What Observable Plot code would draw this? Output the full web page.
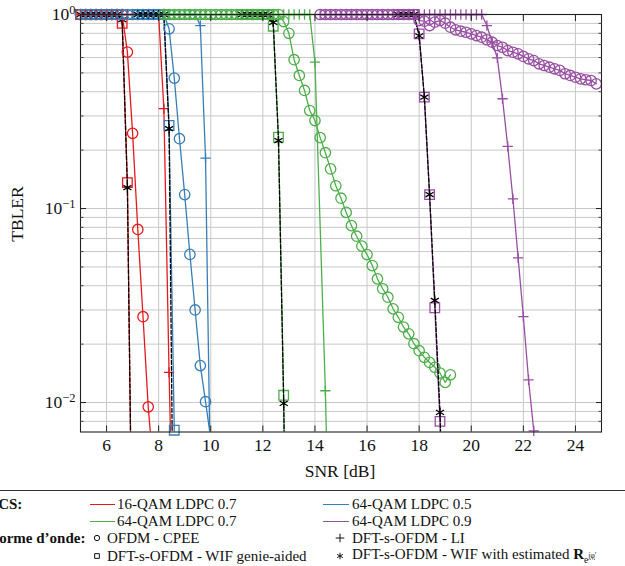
<!DOCTYPE html>
<html><head><meta charset="utf-8">
<script src="https://cdn.jsdelivr.net/npm/d3@7"></script>
<script src="https://cdn.jsdelivr.net/npm/@observablehq/plot@0.6"></script>
<style>
html,body{margin:0;padding:0;background:#fff;}
body{width:625px;height:566px;overflow:hidden;position:relative;font-family:"Liberation Serif","Times New Roman",Times,"DejaVu Serif",serif;color:#111;}
#chart{position:absolute;left:0;top:0;}
.lbl{position:absolute;font-size:17.5px;white-space:nowrap;}
#legend{position:absolute;left:0;top:0;width:625px;height:566px;pointer-events:none;}
.rule{position:absolute;left:0;top:490px;width:625px;height:0;border-top:1px solid #333;}
.lt{position:absolute;font-size:15px;white-space:nowrap;transform:translateY(-50%);line-height:1;}
.lb{font-weight:bold;}
.ll{position:absolute;height:0;border-top:1.3px solid;}
</style></head><body>
<div id="chart"></div>
<div id="legend"></div>
<script>
// ---- axis / tick values ----
const xTicks = [6, 8, 10, 12, 14, 16, 18, 20, 22, 24];
const yTicks = [0.01, 0.1, 1];
const yGrid = [0.008, 0.009, 0.01, 0.02, 0.03, 0.04, 0.05, 0.06, 0.07, 0.08, 0.09, 0.1, 0.2, 0.3, 0.4, 0.5, 0.6, 0.7, 0.8, 0.9];
const xDomain = [5, 25];
const yDomain = [0.00705, 1];

// ---- 16-QAM LDPC 0.7 (red) ----
const snrRedCpee = [5, 5.2, 5.4, 5.6, 5.8, 6, 6.2, 6.4, 6.6, 6.8, 7, 7.2, 7.4, 7.6, 7.8];
const blerRedCpee = [1, 1, 1, 1, 1, 1, 1, 1, 1, 0.64, 0.244, 0.078, 0.0277, 0.0095, 0.0045];
const snrRedLi = [5, 5.2, 5.4, 5.6, 5.8, 6, 6.2, 6.4, 6.6, 6.8, 7, 7.2, 7.4, 7.6, 7.8, 8, 8.2, 8.4, 8.6];
const blerRedLi = [1, 1, 1, 1, 1, 1, 1, 1, 1, 1, 1, 1, 1, 1, 1, 1, 0.327, 0.0143, 0.001];
const snrRedGenie = [5, 5.2, 5.4, 5.6, 5.8, 6, 6.2, 6.4, 6.6, 6.8, 7];
const blerRedGenie = [1, 1, 1, 1, 1, 1, 1, 1, 0.90, 0.136, 0.001];
const snrRedEst = [5, 5.2, 5.4, 5.6, 5.8, 6, 6.2, 6.4, 6.6, 6.8, 7];
const blerRedEst = [1, 1, 1, 1, 1, 1, 1, 1, 0.94, 0.128, 0.001];

// ---- 64-QAM LDPC 0.5 (blue) ----
const snrBlueCpee = [5, 5.2, 5.4, 5.6, 5.8, 6, 6.2, 6.4, 6.6, 6.8, 7, 7.2, 7.4, 7.6, 7.8, 8, 8.2, 8.4, 8.6, 8.8, 9, 9.2, 9.4, 9.6, 9.8, 10];
const blerBlueCpee = [1, 1, 1, 1, 1, 1, 1, 1, 1, 1, 1, 1, 1, 1, 1, 1, 1, 0.844, 0.47, 0.229, 0.118, 0.058, 0.030, 0.0155, 0.0101, 0.0065];
const snrBlueLi = [8.2, 8.4, 8.6, 8.8, 9, 9.2, 9.4, 9.6, 9.8, 10];
const blerBlueLi = [1, 1, 1, 1, 1, 1, 1, 0.877, 0.182, 0.003];
const snrBlueGenie = [7.2, 7.4, 7.6, 7.8, 8, 8.2, 8.4, 8.6, 8.8];
const blerBlueGenie = [1, 1, 1, 1, 1, 1, 0.268, 0.0072, 0.0003];
const snrBlueEst = [7.2, 7.4, 7.6, 7.8, 8, 8.2, 8.4, 8.6];
const blerBlueEst = [1, 1, 1, 1, 1, 1, 0.258, 0.0006];

// ---- 64-QAM LDPC 0.7 (green) ----
const snrGreenCpee = [8.2, 8.4, 8.6, 8.8, 9, 9.2, 9.4, 9.6, 9.8, 10, 10.2, 10.4, 10.6, 10.8, 11, 11.2, 11.4, 11.6, 11.8, 12, 12.2, 12.4, 12.6,
  12.8, 13, 13.2, 13.4, 13.6, 13.8, 14, 14.2, 14.4, 14.6, 14.8, 15, 15.2, 15.4, 15.6, 15.8, 16, 16.2, 16.4, 16.6, 16.8, 17, 17.2, 17.4, 17.6, 17.8, 18, 18.2, 18.4, 18.6, 18.8, 19, 19.2];
const blerGreenCpee = [1, 1, 1, 1, 1, 1, 1, 1, 1, 1, 1, 1, 1, 1, 1, 1, 1, 1, 1, 1, 1, 1, 1,
  0.92, 0.80, 0.585, 0.485, 0.406, 0.32, 0.284, 0.232, 0.194, 0.16, 0.131, 0.113, 0.0955, 0.0816, 0.072, 0.064, 0.0579, 0.0508, 0.0434, 0.0386, 0.0349, 0.0304, 0.0275, 0.0245, 0.0226, 0.0201, 0.0185, 0.0171, 0.0161, 0.0152, 0.0142, 0.0127, 0.0139];
const snrGreenLi = [8.2, 8.4, 8.6, 8.8, 9, 9.2, 9.4, 9.6, 9.8, 10, 10.2, 10.4, 10.6, 10.8, 11, 11.2, 11.4, 11.6, 11.8, 12, 12.2, 12.4, 12.6, 12.8, 13, 13.2, 13.4, 13.6, 13.8, 14, 14.4, 14.6];
const blerGreenLi = [1, 1, 1, 1, 1, 1, 1, 1, 1, 1, 1, 1, 1, 1, 1, 1, 1, 1, 1, 1, 1, 1, 1, 1, 1, 1, 1, 1, 1, 0.568, 0.0115, 0.0008];
const snrGreenGenie = [11.2, 11.4, 11.6, 11.8, 12, 12.2, 12.4, 12.6, 12.8, 13];
const blerGreenGenie = [1, 1, 1, 1, 1, 1, 0.87, 0.233, 0.0109, 0.0001];
const snrGreenEst = [11.2, 11.4, 11.6, 11.8, 12, 12.2, 12.4, 12.6, 12.8, 13];
const blerGreenEst = [1, 1, 1, 1, 1, 1, 0.91, 0.224, 0.0099, 0.0001];

// ---- 64-QAM LDPC 0.9 (purple) ----
const snrPurpleCpee = [14.2, 14.4, 14.6, 14.8, 15, 15.2, 15.4, 15.6, 15.8, 16, 16.2, 16.4, 16.6, 16.8, 17, 17.2, 17.4, 17.6, 17.8,
  18, 18.2, 18.4, 18.6, 18.8, 19, 19.2, 19.4, 19.6, 19.8, 20, 20.2, 20.4, 20.6, 20.8, 21, 21.2, 21.4, 21.6, 21.8, 22, 22.2, 22.4, 22.6, 22.8, 23, 23.2, 23.4, 23.6, 23.8, 24, 24.2, 24.4, 24.6, 24.8];
const blerPurpleCpee = [1, 1, 1, 1, 1, 1, 1, 1, 1, 1, 1, 1, 1, 1, 1, 1, 1, 1, 1,
  0.931, 0.924, 0.877, 0.913, 0.931, 0.902, 0.860, 0.834, 0.820, 0.810, 0.795, 0.779, 0.764, 0.741, 0.720, 0.692, 0.678, 0.652, 0.639, 0.627, 0.608, 0.591, 0.579, 0.557, 0.546, 0.535, 0.525, 0.515, 0.495, 0.485, 0.475, 0.466, 0.461, 0.457, 0.439];
const snrPurpleLi = [14.2, 14.4, 14.6, 14.8, 15, 15.2, 15.4, 15.6, 15.8, 16, 16.2, 16.4, 16.6, 16.8, 17, 17.2, 17.4, 17.6, 17.8, 18, 18.2, 18.4, 18.6, 18.8, 19, 19.2, 19.4, 19.6, 19.8, 20, 20.2, 20.4,
  20.6, 20.8, 21, 21.2, 21.4, 21.6, 21.8, 22, 22.2, 22.4, 22.6];
const blerPurpleLi = [1, 1, 1, 1, 1, 1, 1, 1, 1, 1, 1, 1, 1, 1, 1, 1, 1, 1, 1, 1, 1, 1, 1, 1, 1, 1, 1, 1, 1, 1, 1, 1,
  0.877, 0.72, 0.598, 0.368, 0.209, 0.112, 0.0557, 0.0277, 0.0131, 0.00714, 0.002];
const snrPurpleGenie = [17.2, 17.4, 17.6, 17.8, 18, 18.2, 18.4, 18.6, 18.8, 19];
const blerPurpleGenie = [1, 1, 1, 1, 0.795, 0.375, 0.118, 0.0308, 0.008, 0.0005];
const snrPurpleEst = [17.2, 17.4, 17.6, 17.8, 18, 18.2, 18.4, 18.6, 18.8, 19];
const blerPurpleEst = [1, 1, 1, 1, 0.776, 0.375, 0.118, 0.0336, 0.0089, 0.001];

// ---- legend texts ----
const mcsLabels = ["16-QAM LDPC 0.7", "64-QAM LDPC 0.5", "64-QAM LDPC 0.7", "64-QAM LDPC 0.9"];
const waveLabels = ["OFDM - CPEE", "DFT-s-OFDM - LI", "DFT-s-OFDM - WIF genie-aided", "DFT-s-OFDM - WIF with estimated "];

// ---- styling (not data) ----
const FONT = '"Liberation Serif","Times New Roman",Times,"DejaVu Serif",serif';
const colors = ["#e41a1c", "#377eb8", "#4daf4a", "#984ea3"];
const kinds = {
  genie: {symbol: "square", r: 5.4, black: false, dash: null},
  est: {symbol: "asterisk", r: 4.4, black: true, dash: "4,2"},
  cpee: {symbol: "circle", r: 5.2, black: false, dash: null},
  li: {symbol: "plus", r: 3.4, black: false, dash: null}
};
const series = [
  [0, "genie", snrRedGenie, blerRedGenie], [0, "est", snrRedEst, blerRedEst], [0, "cpee", snrRedCpee, blerRedCpee], [0, "li", snrRedLi, blerRedLi],
  [1, "genie", snrBlueGenie, blerBlueGenie], [1, "est", snrBlueEst, blerBlueEst], [1, "cpee", snrBlueCpee, blerBlueCpee], [1, "li", snrBlueLi, blerBlueLi],
  [2, "genie", snrGreenGenie, blerGreenGenie], [2, "est", snrGreenEst, blerGreenEst], [2, "cpee", snrGreenCpee, blerGreenCpee], [2, "li", snrGreenLi, blerGreenLi],
  [3, "genie", snrPurpleGenie, blerPurpleGenie], [3, "est", snrPurpleEst, blerPurpleEst], [3, "cpee", snrPurpleCpee, blerPurpleCpee], [3, "li", snrPurpleLi, blerPurpleLi]
];

const seriesMarks = [];
for (const [ci, kind, snr, bler] of series) {
  const k = kinds[kind];
  const col = colors[ci];
  const pts = snr.map((s, i) => ({snr: s, bler: bler[i]}));
  if (kind === "est") {
    seriesMarks.push(Plot.line(pts, {x: "snr", y: "bler", stroke: "#000", strokeWidth: 1.3, strokeDasharray: k.dash, clip: true}));
  } else {
    seriesMarks.push(Plot.line(pts, {x: "snr", y: "bler", stroke: col, strokeWidth: 1.3, clip: true}));
  }
  seriesMarks.push(Plot.dot(pts.filter(d => d.bler >= yDomain[0]), {
    x: "snr", y: "bler", symbol: () => k.symbol, r: k.r, fill: "none",
    stroke: k.black ? "#000" : col, strokeWidth: 1.3
  }));
}

const svg = Plot.plot({
  width: 625, height: 480,
  marginLeft: 80, marginRight: 24, marginTop: 14, marginBottom: 48.5,
  style: {fontFamily: FONT, fontSize: "17.5px", background: "transparent", color: "#111"},
  x: {domain: xDomain, label: null},
  y: {type: "log", domain: yDomain, label: null},
  marks: [
    Plot.gridY(yGrid, {stroke: "#c8c8c8", strokeOpacity: 1, strokeWidth: 1}),
    Plot.gridX(xTicks, {stroke: "#c8c8c8", strokeOpacity: 1, strokeWidth: 1}),
    ...seriesMarks,
    Plot.frame({stroke: "#222", strokeWidth: 1.1}),
    Plot.axisX(xTicks, {anchor: "bottom", tickSize: 0, tickPadding: 6.5, fontSize: 17.5, label: null, tickFormat: d => String(d)}),
    Plot.axisY(yTicks, {anchor: "left", tickSize: 0, tickPadding: 5, fontSize: 17.5, label: null, tickFormat: d => "10^" + Math.round(Math.log10(d))}),
    Plot.axisY(yGrid, {anchor: "left", tickSize: -3.5, label: null, tickFormat: () => "", stroke: "#444"}),
    Plot.axisY(yGrid, {anchor: "right", tickSize: -3.5, label: null, tickFormat: () => "", stroke: "#444"}),
    Plot.axisY(yTicks, {anchor: "left", tickSize: -6, label: null, tickFormat: () => "", stroke: "#222"}),
    Plot.axisY(yTicks, {anchor: "right", tickSize: -6, label: null, tickFormat: () => "", stroke: "#222"}),
    Plot.axisX(xTicks, {anchor: "bottom", tickSize: -6, label: null, tickFormat: () => "", stroke: "#222"}),
    Plot.axisX(xTicks, {anchor: "top", tickSize: -6, label: null, tickFormat: () => "", stroke: "#222"})
  ]
});
svg.style.fontFamily = FONT;
svg.querySelectorAll("text, g").forEach(n => n.style && (n.style.fontFamily = FONT));
document.getElementById("chart").appendChild(svg);

// superscript exponents in y tick labels
svg.querySelectorAll("text").forEach(t => {
  const s = t.textContent;
  const m = /^10\^(-?\d+)$/.exec(s);
  if (!m) return;
  const e = m[1].replace("-", "\u2212");
  t.textContent = "";
  const a = document.createElementNS("http://www.w3.org/2000/svg", "tspan");
  a.textContent = "10";
  const b = document.createElementNS("http://www.w3.org/2000/svg", "tspan");
  b.textContent = e;
  b.setAttribute("font-size", "12.5px");
  b.setAttribute("dy", "-0.5em");
  t.appendChild(a); t.appendChild(b);
});

// axis titles
const xl = document.createElement("div");
xl.className = "lbl"; xl.textContent = "SNR [dB]";
xl.style.left = "340px"; xl.style.top = "471px"; xl.style.transform = "translate(-50%,-50%)";
document.body.appendChild(xl);
const yl = document.createElement("div");
yl.className = "lbl"; yl.textContent = "TBLER";
yl.style.left = "17px"; yl.style.top = "214px"; yl.style.transform = "translate(-50%,-50%) rotate(-90deg)";
document.body.appendChild(yl);

// ---- legend ----
const L = document.getElementById("legend");
const rule = document.createElement("div"); rule.className = "rule"; L.appendChild(rule);
function text(html, x, y, bold) {
  const d = document.createElement("div");
  d.className = "lt" + (bold ? " lb" : "");
  d.innerHTML = html; d.style.left = x + "px"; d.style.top = y + "px";
  L.appendChild(d); return d;
}
function line(col, x0, x1, y) {
  const d = document.createElement("div"); d.className = "ll";
  d.style.left = x0 + "px"; d.style.width = (x1 - x0) + "px"; d.style.top = y + "px"; d.style.borderColor = col;
  L.appendChild(d);
}
function marker(sym, x, y) {
  const s = d3.create("svg").attr("width", 14).attr("height", 14)
    .style("position", "absolute").style("left", (x - 7) + "px").style("top", (y - 7) + "px");
  const sz = {circle: 22, square: 22, plus: 26, asterisk: 30}[sym];
  const type = {circle: d3.symbolCircle, square: d3.symbolSquare, plus: d3.symbolPlus, asterisk: d3.symbolAsterisk}[sym];
  s.append("path").attr("d", d3.symbol(type, sz)()).attr("transform", "translate(7,7)")
    .attr("fill", "none").attr("stroke", "#111").attr("stroke-width", 1);
  L.appendChild(s.node());
}
const rows = [504, 521, 538, 556];
text("MCS:", -16, rows[0], true);
text("Forme d\u2019onde:", -10, rows[2], true);
const lineCols = [[90, 115, 117], [323, 349, 352]];
mcsLabels.forEach((lab, i) => {
  const col = i % 2, row = Math.floor(i / 2);
  line(colors[i], lineCols[col][0], lineCols[col][1], rows[row]);
  text(lab, lineCols[col][2], rows[row]);
});
const waveSyms = ["circle", "plus", "square", "asterisk"];
const markCols = [[97, 107], [340, 352]];
waveLabels.forEach((lab, i) => {
  const col = i % 2, row = 2 + Math.floor(i / 2);
  marker(waveSyms[i], markCols[col][0], rows[row]);
  let html = lab;
  if (i === 3) html += '<b>R</b><span style="font-size:9.5px;vertical-align:-4px">e<span style="font-size:7.5px;vertical-align:5px">j<u>\u03C6</u>\u2032</span></span>';
  text(html, markCols[col][1], rows[row]);
});
</script>
</body></html>
